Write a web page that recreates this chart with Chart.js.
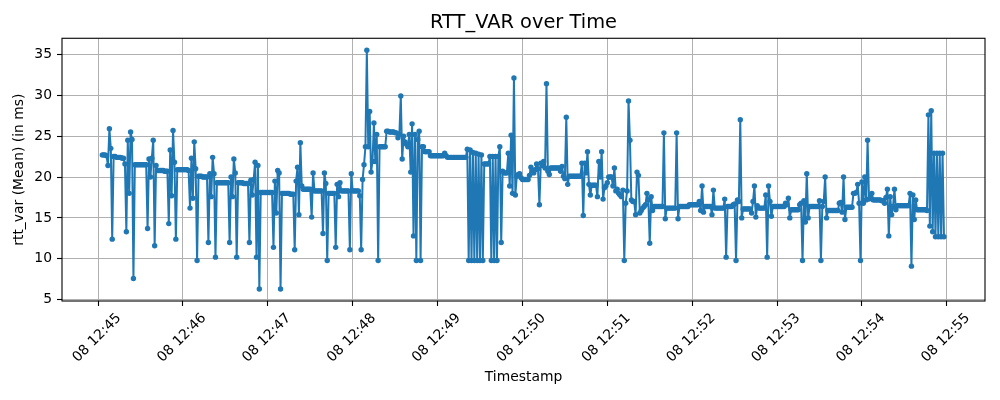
<!DOCTYPE html>
<html>
<head>
<meta charset="utf-8">
<title>RTT_VAR over Time</title>
<script src="https://cdn.jsdelivr.net/npm/chart.js@4.4.0/dist/chart.umd.min.js"></script>
<style>
  html, body { margin: 0; padding: 0; background: #fff; }
  #wrap { width: 1000px; height: 400px; }
</style>
</head>
<body>
<div id="wrap"><canvas id="rttChart" width="1000" height="400"></canvas></div>
<script>
var chartTitle  = 'RTT_VAR over Time';
var xAxisTitle  = 'Timestamp';
var yAxisTitle  = 'rtt_var (Mean) (in ms)';
var dayLabel    = '08';
var startHour   = 12;
var startMinute = 45;

// x tick positions, seconds after 12:45:00
var xTickSeconds = [0, 60, 120, 180, 240, 300, 360, 420, 480, 540, 600];
var yTicks       = [5, 10, 15, 20, 25, 30, 35];

// one sample per second, first one at 12:45:03
var firstSecond = 3;
var rttVar = [
  22.7, 22.7, 22.7, 22.6, 21.4, 25.9, 23.5,
  12.4, 22.5, 22.5, 22.4, 22.4, 22.4, 22.4, 22.3, 22.3, 21.6,
  13.3, 24.5, 18.0, 25.5, 24.6, 7.6, 21.5, 21.5, 21.5, 21.5,
  21.5, 21.5, 21.5, 21.5, 21.5, 13.7, 22.2, 20.0, 22.3, 24.5,
  11.6, 21.4, 20.8, 20.8, 20.8, 20.8, 20.8, 20.7, 20.7, 20.7,
  14.3, 23.3, 17.7, 25.7, 21.8, 12.4, 20.9, 20.9, 20.9, 20.9,
  20.9, 20.9, 20.9, 20.9, 20.8, 16.2, 22.3, 17.4, 24.3, 21.0,
  9.8, 20.1, 20.1, 20.1, 20.0, 20.0, 20.0, 20.0, 12.0, 20.4,
  17.6, 22.4, 20.4, 10.2, 19.3, 19.3, 19.3, 19.3, 19.3, 19.3,
  19.3, 19.3, 19.3, 12.0, 20.0, 17.6, 22.2, 20.5, 10.2, 19.3,
  19.3, 19.3, 19.3, 19.2, 19.2, 19.2, 19.2, 12.0, 19.6, 17.8,
  19.7, 21.8, 10.2, 21.4, 6.3, 18.1, 18.1, 18.1, 18.1, 18.1,
  18.1, 18.1, 18.1, 18.1, 11.4, 19.5, 15.6, 20.8, 20.5, 6.3,
  18.0, 18.0, 18.0, 18.0, 18.0, 18.0, 17.9, 17.9, 17.9, 11.1,
  19.5, 21.2, 15.4, 24.2, 18.9, 18.5, 18.5, 18.5, 18.5, 18.5,
  18.5, 15.1, 20.5, 18.3, 18.3, 18.3, 18.3, 18.3, 18.3, 13.1,
  20.5, 19.2, 9.8, 18.0, 18.0, 18.0, 18.0, 18.0, 11.4, 19.1,
  17.6, 19.3, 18.3, 18.3, 18.3, 18.3, 18.3, 18.3, 11.1, 20.4,
  18.3, 18.3, 18.3, 18.3, 18.3, 17.7, 11.1, 19.7, 21.5, 23.7,
  35.5, 23.7, 28.0, 20.6, 21.9, 26.6, 21.9, 25.2, 9.8, 23.7,
  23.7, 23.7, 23.7, 23.7, 25.6, 25.6, 25.5, 25.5, 25.5, 25.5,
  25.4, 25.4, 24.8, 25.2, 29.9, 22.2, 25.0, 24.3, 24.0, 23.7,
  25.2, 20.6, 26.5, 12.8, 25.2, 9.8, 24.6, 25.6, 9.8, 23.7,
  23.7, 23.1, 23.1, 23.1, 23.1, 22.6, 22.6, 22.6, 22.6, 22.6,
  22.6, 22.6, 22.6, 22.6, 22.6, 22.9, 22.6, 22.4, 22.4, 22.4,
  22.4, 22.4, 22.4, 22.4, 22.4, 22.4, 22.4, 22.4, 22.4, 22.4,
  22.4, 23.4, 9.8, 23.3, 9.8, 23.0, 9.8, 22.9, 9.8, 22.8,
  9.8, 22.7, 9.8, 21.6, 21.6, 21.6, 21.6, 22.5, 9.8, 22.5,
  9.8, 22.5, 9.8, 22.5, 23.7, 12.0, 20.7, 20.5, 20.5, 20.5,
  22.9, 18.9, 25.1, 18.0, 32.1, 17.8, 20.1, 20.3, 20.4, 19.9,
  19.7, 19.7, 19.7, 19.7, 19.7, 20.2, 21.2, 20.8, 20.5, 20.9,
  21.6, 21.0, 16.6, 21.7, 21.4, 21.9, 21.1, 31.4, 20.7, 20.3,
  21.1, 21.1, 21.1, 21.1, 21.1, 21.1, 21.1, 20.7, 21.3, 20.1,
  19.8, 27.3, 19.1, 20.1, 20.1, 20.1, 20.1, 20.1, 20.1, 20.1,
  20.1, 20.1, 21.7, 15.3, 21.7, 20.5, 23.1, 19.1, 17.8, 19.0,
  19.0, 19.0, 19.0, 17.6, 21.9, 20.0, 23.1, 17.3, 18.7, 18.9,
  19.3, 20.0, 20.0, 20.0, 18.9, 21.1, 18.3, 18.5, 18.0, 17.8,
  17.6, 18.4, 9.8, 16.8, 18.3, 29.3, 24.5, 17.2, 17.0, 17.0,
  15.4, 20.6, 20.2, 15.6, 15.9, 16.2, 16.4, 16.6, 18.0, 17.2,
  11.9, 17.6, 15.9, 16.4, 16.4, 16.4, 16.4, 16.4, 16.4, 16.4,
  25.4, 14.9, 16.2, 16.2, 16.2, 16.2, 16.2, 16.2, 16.2, 25.4,
  14.9, 16.4, 16.4, 16.4, 16.4, 16.4, 16.4, 16.4, 16.6, 16.6,
  16.6, 16.6, 16.6, 16.6, 16.6, 17.0, 15.9, 18.9, 15.7, 16.4,
  16.4, 16.4, 16.4, 16.4, 15.4, 18.4, 16.2, 16.2, 16.2, 16.2,
  16.2, 16.2, 16.2, 17.3, 10.2, 16.4, 16.4, 16.4, 16.4, 16.6,
  16.7, 9.8, 17.2, 17.0, 27.0, 15.0, 16.1, 16.1, 16.1, 16.1,
  16.1, 16.1, 15.6, 17.0, 18.9, 15.1, 16.5, 16.2, 16.2, 16.2,
  16.2, 16.2, 17.8, 10.2, 18.9, 17.0, 15.2, 16.4, 16.4, 16.4,
  16.4, 16.4, 16.4, 16.4, 16.4, 16.4, 16.8, 16.6, 17.4, 15.0,
  16.0, 16.0, 16.0, 16.0, 16.0, 16.0, 16.6, 16.8, 9.8, 17.1,
  14.5, 20.4, 15.0, 16.4, 16.4, 16.4, 16.4, 16.4, 16.4, 16.4,
  17.1, 9.8, 16.4, 17.0, 20.0, 15.0, 15.9, 15.9, 15.9, 15.9,
  15.9, 15.9, 15.9, 15.9, 16.8, 16.9, 15.7, 20.0, 14.8, 16.3,
  16.3, 16.3, 16.3, 16.3, 18.0, 18.0, 18.1, 19.1, 16.8, 9.8,
  19.4, 16.8, 20.0, 17.2, 24.5, 17.3, 17.6, 18.0, 17.2, 17.2,
  17.2, 17.2, 17.2, 17.2, 17.1, 17.1, 16.8, 17.5, 18.5, 12.8,
  17.6, 15.4, 16.4, 18.5, 16.0, 16.5, 16.5, 16.5, 16.5, 16.5,
  16.5, 16.5, 16.5, 16.5, 18.0, 9.1, 17.8, 14.8, 17.2, 16.0,
  16.0, 16.0, 16.0, 16.0, 16.0, 16.0, 15.9, 27.6, 14.0, 28.1,
  13.3, 22.9, 12.7, 22.9, 12.7, 22.9, 12.7, 22.9, 12.7
];

var lineColor = '#1f77b4';
var tickFont  = { family: '"DejaVu Sans", sans-serif', size: 13.9 };

function pad2(n) { return (n < 10 ? '0' : '') + n; }

function timeLabel(sec) {
  var total = startHour * 60 + startMinute + Math.round(sec / 60);
  return dayLabel + ' ' + pad2(Math.floor(total / 60)) + ':' + pad2(total % 60);
}

var points = rttVar.map(function(v, i) {
  return { x: firstSecond + i, y: v };
});

// matplotlib style box round the plot area
var frame = {
  id: 'frame',
  afterDatasetsDraw: function(chart) {
    var a = chart.chartArea, ctx = chart.ctx;
    ctx.save();
    ctx.strokeStyle = '#000';
    ctx.lineWidth = 1.1;
    ctx.strokeRect(a.left, a.top, a.right - a.left, a.bottom - a.top);
    ctx.restore();
  }
};

new Chart(document.getElementById('rttChart'), {
  type: 'line',
  data: {
    datasets: [{
      data: points,
      borderColor: lineColor,
      backgroundColor: lineColor,
      borderWidth: 2,
      borderJoinStyle: 'round',
      borderCapStyle: 'round',
      pointRadius: 2.7,
      pointBorderWidth: 0,
      pointBackgroundColor: lineColor,
      tension: 0,
      fill: false
    }]
  },
  options: {
    responsive: false,
    animation: false,
    devicePixelRatio: 1,
    layout: { padding: { left: 0, right: 15, top: 0, bottom: 0 } },
    plugins: {
      legend: { display: false },
      tooltip: { enabled: false },
      title: {
        display: true,
        text: chartTitle,
        fullSize: false,
        color: '#000',
        font: { family: '"DejaVu Sans", sans-serif', size: 19.4, weight: 'normal' },
        padding: { top: 11.6, bottom: 3.4 }
      }
    },
    scales: {
      x: {
        type: 'linear',
        min: -25.5,
        max: 627,
        afterBuildTicks: function(scale) {
          scale.ticks = xTickSeconds.map(function(v) { return { value: v }; });
        },
        afterFit: function(scale) {
          scale.height = 99;
          scale.paddingLeft = 0;
          scale.paddingRight = 0;
        },
        ticks: {
          autoSkip: false,
          minRotation: 45,
          maxRotation: 45,
          labelOffset: 21,
          padding: 4,
          color: '#000',
          font: tickFont,
          callback: function(value) { return timeLabel(value); }
        },
        grid: {
          color: '#b0b0b0',
          lineWidth: 1,
          tickColor: '#000',
          tickLength: 5,
          tickWidth: 1.1
        },
        border: { display: false },
        title: {
          display: true,
          text: xAxisTitle,
          color: '#000',
          font: tickFont,
          padding: { top: 0, bottom: 14 }
        }
      },
      y: {
        min: 4.84,
        max: 36.96,
        afterBuildTicks: function(scale) {
          scale.ticks = yTicks.map(function(v) { return { value: v }; });
        },
        afterFit: function(scale) {
          scale.width = 62;
        },
        ticks: {
          padding: 5,
          color: '#000',
          font: tickFont
        },
        grid: {
          color: '#b0b0b0',
          lineWidth: 1,
          tickColor: '#000',
          tickLength: 5,
          tickWidth: 1.1
        },
        border: { display: false },
        title: {
          display: true,
          text: yAxisTitle,
          color: '#000',
          font: tickFont,
          padding: { top: 11, bottom: 0 }
        }
      }
    }
  },
  plugins: [frame]
});
</script>
</body>
</html>
